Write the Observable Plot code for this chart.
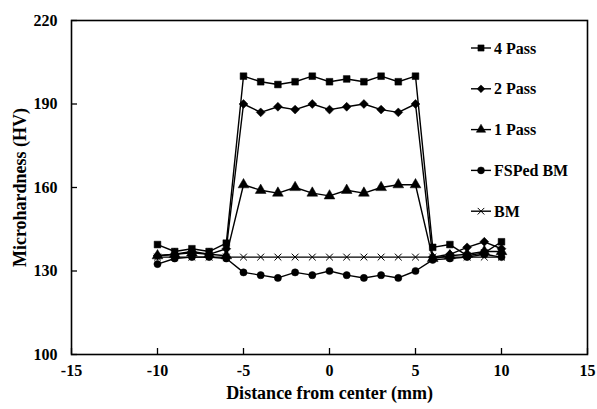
<!DOCTYPE html>
<html>
<head>
<meta charset="utf-8">
<script src="https://cdn.jsdelivr.net/npm/d3@7"></script>
<script src="https://cdn.jsdelivr.net/npm/@observablehq/plot@0.6"></script>
<style>
  html, body { margin: 0; padding: 0; background: #fff; }
  #chart svg { display: block; }
</style>
</head>
<body>
<div id="chart"></div>
<script>
// ---- data ----
const distance = [-10, -9, -8, -7, -6, -5, -4, -3, -2, -1, 0, 1, 2, 3, 4, 5, 6, 7, 8, 9, 10];
const pass4 = [139.5, 137, 138, 137, 140, 200, 198, 197, 198, 200, 198, 199, 198, 200, 198, 200, 138.5, 139.5, 135.5, 136.5, 140.5];
const pass2 = [135.5, 136, 137, 136, 138, 190, 187, 189, 188, 190, 188, 189, 190, 188, 187, 190, 135, 136, 138.5, 140.5, 138];
const pass1 = [135.5, 136, 136.5, 136, 135.5, 161, 159, 158, 160, 158, 157, 159, 158, 160, 161, 161, 134.5, 135.5, 136, 137, 137];
const fsped = [132.5, 134.5, 135, 135, 134.5, 129.5, 128.5, 127.5, 129.5, 128.5, 130, 128.5, 127.5, 128.5, 127.5, 130, 134, 134.5, 135, 136, 135];
const bm = [135, 135, 135, 135, 135, 135, 135, 135, 135, 135, 135, 135, 135, 135, 135, 135, 135, 135, 135, 135, 135];
const seriesNames = ["4 Pass", "2 Pass", "1 Pass", "FSPed BM", "BM"];
const seriesValues = [pass4, pass2, pass1, fsped, bm];
const seriesSymbols = ["square", "diamond2", "triangle", "circle", "times"];
const xTicks = [-15, -10, -5, 0, 5, 10, 15];
const yTicks = [100, 130, 160, 190, 220];

// ---- build table ----
const rows = [];
seriesNames.forEach((name, i) => {
  distance.forEach((d, j) => rows.push({series: name, x: d, y: seriesValues[i][j]}));
});

const W = 597, H = 409;
const M = {top: 20, right: 10, bottom: 55, left: 71};
const innerW = W - M.left - M.right;
const innerH = H - M.top - M.bottom;
const FONT = "'Liberation Serif', 'Times New Roman', serif";

const marks = [
  Plot.frame({stroke: "#000", strokeWidth: 1.6}),
  Plot.tickX(xTicks, {x: d => d, insetTop: innerH - 6, stroke: "#000", strokeWidth: 1.3}),
  Plot.tickY(yTicks, {y: d => d, insetRight: innerW - 6, stroke: "#000", strokeWidth: 1.3}),
  Plot.axisX({ticks: xTicks, tickSize: 0, tickPadding: 10, fontSize: 16, fontWeight: "bold",
    label: "Distance from center (mm)", labelAnchor: "center", labelOffset: 44, labelArrow: "none", tickFormat: d => String(d)}),
  Plot.axisY({ticks: yTicks, tickSize: 0, tickPadding: 14, fontSize: 16, fontWeight: "bold",
    label: "Microhardness (HV)", labelAnchor: "center", labelOffset: 58, labelArrow: "none"})
];

seriesNames.forEach((name, i) => {
  const data = rows.filter(r => r.series === name);
  marks.push(Plot.line(data, {x: "x", y: "y", stroke: "#000", strokeWidth: name === "BM" ? 1.1 : 1.4}));
  const sym = seriesSymbols[i];
  const r = sym === "square" ? 3.8 : sym === "times" ? 3.2 : sym === "circle" ? 3.6 : 4;
  marks.push(Plot.dot(data, {x: "x", y: "y", symbol: () => sym, r,
    fill: sym === "times" ? "none" : "#000", stroke: "#000", strokeWidth: sym === "times" ? 1 : 0.5}));
});

const chart = Plot.plot({
  width: W, height: H,
  marginTop: M.top, marginRight: M.right, marginBottom: M.bottom, marginLeft: M.left,
  style: {fontFamily: FONT, color: "#000", background: "#fff", overflow: "visible"},
  x: {domain: [-15, 15], label: "Distance from center (mm)"},
  y: {domain: [100, 220], label: "Microhardness (HV)"},
  symbol: {domain: seriesSymbols, range: seriesSymbols},
  marks
});

// axis titles: bigger and bold
d3.select(chart).selectAll("g[aria-label='x-axis label'] text, g[aria-label='y-axis label'] text")
  .style("font-size", "18px").style("font-weight", "bold");

// ---- legend (inside plot, top-right) ----
const svg = d3.select(chart);
const leg = svg.append("g").attr("aria-label", "legend").attr("text-anchor", "start");
const legX = 471, legY0 = 48, legDy = 40.8;
const symMap = {square: d3.symbolSquare, diamond2: d3.symbolDiamond2, triangle: d3.symbolTriangle, circle: d3.symbolCircle, times: d3.symbolTimes};
seriesNames.forEach((name, i) => {
  const y = legY0 + i * legDy;
  const g = leg.append("g").attr("transform", `translate(0,${y})`);
  g.append("line").attr("x1", legX).attr("x2", legX + 20).attr("y1", 0).attr("y2", 0)
    .attr("stroke", "#000").attr("stroke-width", 1.4);
  const sym = seriesSymbols[i];
  const size = sym === "times" ? 30 : 38;
  g.append("path").attr("d", d3.symbol(symMap[sym], size)())
    .attr("transform", `translate(${legX + 10},0)`)
    .attr("fill", sym === "times" ? "none" : "#000").attr("stroke", "#000").attr("stroke-width", sym === "times" ? 1 : 0.5);
  g.append("text").attr("x", legX + 23).attr("y", 0).attr("dy", "0.35em")
    .attr("text-anchor", "start")
    .attr("font-family", FONT).attr("font-weight", "bold").attr("font-size", 16)
    .attr("fill", "#000").text(name);
});

document.getElementById("chart").appendChild(chart);
</script>
</body>
</html>
